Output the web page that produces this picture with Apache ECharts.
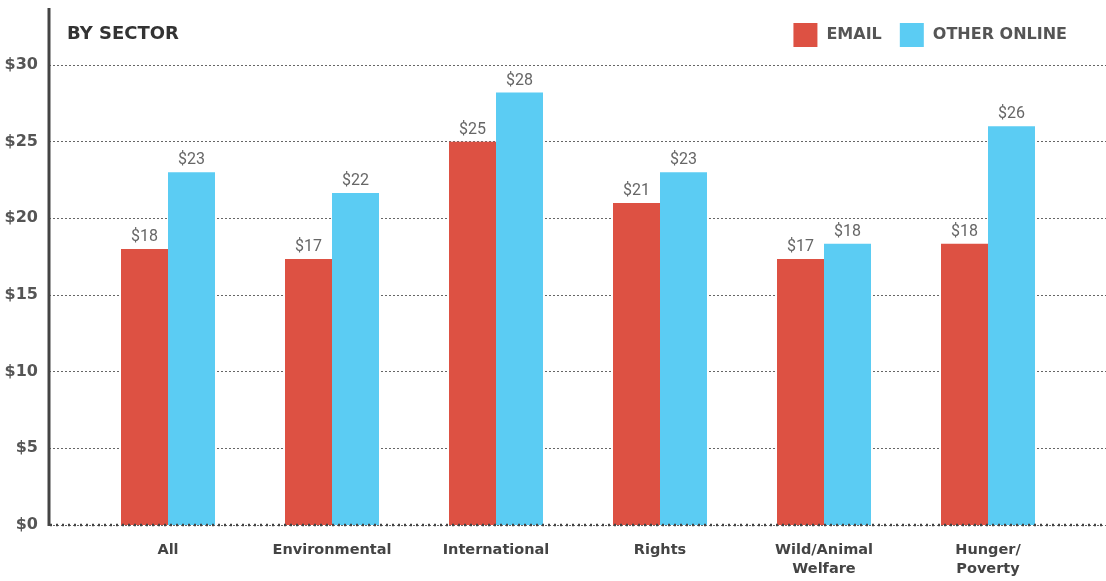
<!DOCTYPE html>
<html>
<head>
<meta charset="utf-8">
<script src="https://cdn.jsdelivr.net/npm/echarts@6/dist/echarts.min.js"></script>
<style>
  html, body { margin: 0; padding: 0; background: #fff; }
  #chart { width: 1106px; height: 581px; }
</style>
</head>
<body>
<div id="chart"></div>
<script>
// data
const sectors = ['All', 'Environmental', 'International', 'Rights', 'Wild/Animal\nWelfare', 'Hunger/\nPoverty']
const emailValues = [18, 17.35, 25, 21, 17.35, 18.35]
const otherOnlineValues = [23, 21.65, 28.2, 23, 18.35, 26]
const yTicks = [0, 5, 10, 15, 20, 25, 30]

const RED = '#DD5143'
const BLUE = '#5BCCF3'
const WIDE = '"DejaVu Sans", sans-serif'

const chart = echarts.init(document.getElementById('chart'))

const valueLabel = {
  show: true,
  position: 'top',
  distance: 4,
  color: '#666',
  fontFamily: 'Roboto, sans-serif',
  fontSize: 16,
  formatter: p => '$' + Math.round(p.value)
}

const option = {
  animation: false,
  textStyle: { fontFamily: WIDE },
  title: {
    text: 'BY SECTOR',
    left: 62,
    top: 20,
    textStyle: { fontSize: 18, fontWeight: 'bold', color: '#333', fontFamily: WIDE }
  },
  legend: {
    right: 34,
    top: 18,
    itemWidth: 24,
    itemHeight: 24,
    itemGap: 18,
    icon: 'rect',
    textStyle: { fontSize: 16, fontWeight: 'bold', color: '#555', fontFamily: WIDE, padding: [0, 0, 0, 4] },
    data: ['EMAIL', 'OTHER ONLINE']
  },
  grid: [
    // full-width grid for the dollar axis and dotted guides
    { left: 49, right: 0, top: 65, bottom: 56 },
    // inner grid that holds the bar groups
    { left: 86, right: 36, top: 65, bottom: 56 }
  ],
  xAxis: [
    { gridIndex: 0, type: 'value', min: 0, max: 1, show: false },
    {
      gridIndex: 1,
      type: 'category',
      data: sectors,
      axisLine: { show: false },
      axisTick: { show: false },
      axisLabel: {
        margin: 16,
        fontSize: 14.5,
        fontWeight: 'bold',
        color: '#444',
        lineHeight: 19,
        fontFamily: WIDE
      }
    }
  ],
  yAxis: [
    {
      gridIndex: 0,
      type: 'value',
      min: 0,
      max: 30,
      interval: 5,
      axisLine: { show: false },
      axisTick: { show: false },
      axisLabel: {
        margin: 11,
        fontSize: 16,
        fontWeight: 'bold',
        color: '#555',
        fontFamily: WIDE,
        formatter: v => yTicks.includes(v) ? '$' + v : ''
      },
      splitLine: {
        show: true,
        lineStyle: { type: [2, 2], color: '#666', width: 1 }
      }
    },
    { gridIndex: 1, type: 'value', min: 0, max: 30, interval: 5, show: false }
  ],
  graphic: [
    {
      type: 'line',
      shape: { x1: 49, y1: 8, x2: 49, y2: 526 },
      style: { stroke: '#444', lineWidth: 3 },
      z: 10
    },
    {
      type: 'line',
      shape: { x1: 50, y1: 525, x2: 1106, y2: 525 },
      style: { stroke: '#444', lineWidth: 2.5, lineDash: [2, 4] },
      z: 10
    }
  ],
  series: [
    {
      name: 'EMAIL',
      type: 'bar',
      xAxisIndex: 1,
      yAxisIndex: 1,
      data: emailValues,
      barWidth: 47,
      barGap: '0%',
      itemStyle: { color: RED },
      label: valueLabel
    },
    {
      name: 'OTHER ONLINE',
      type: 'bar',
      xAxisIndex: 1,
      yAxisIndex: 1,
      data: otherOnlineValues,
      barWidth: 47,
      barGap: '0%',
      itemStyle: { color: BLUE },
      label: valueLabel
    }
  ]
}

chart.setOption(option)
</script>
</body>
</html>
